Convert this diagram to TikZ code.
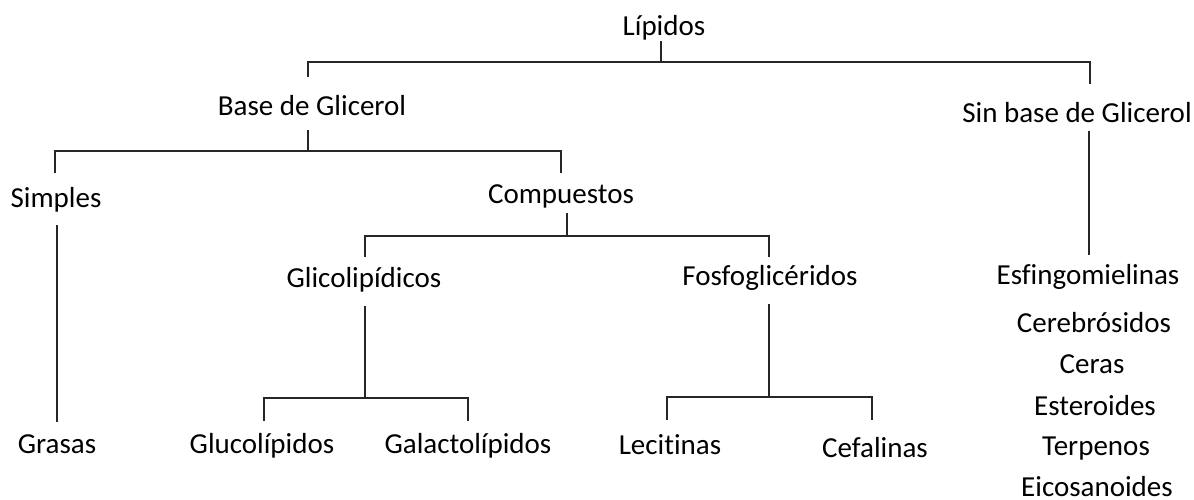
\documentclass[tikz,border=0pt]{standalone}
\usepackage{fontspec}
\setmainfont{Carlito}[Ligatures={NoCommon}]
\begin{document}
\begin{tikzpicture}[x=0.5pt,y=-0.5pt,
  lbl/.style={anchor=base,inner sep=0pt,font=\fontsize{14.5pt}{17pt}\selectfont},
  conn/.style={draw=black!85,line width=0.75pt}]
\useasboundingbox (0,0) rectangle (1194,499);
% nodes
\node[lbl] (lip) at (664,35) {Lípidos};
\node[lbl] (base) at (312,115) {Base de Glicerol};
\node[lbl] (sin) at (1077,122) {Sin base de Glicerol};
\node[lbl] (simp) at (56,207) {Simples};
\node[lbl] (comp) at (561,203) {Compuestos};
\node[lbl] (glico) at (364,287) {Glicolipídicos};
\node[lbl] (fosfo) at (770,285) {Fosfoglicéridos};
\node[lbl] (gras) at (57,453) {Grasas};
\node[lbl] (gluco) at (262,453) {Glucolípidos};
\node[lbl] (galac) at (468,453) {Galactolípidos};
\node[lbl] (leci) at (670,454) {Lecitinas};
\node[lbl] (cefa) at (875,457) {Cefalinas};
\node[lbl] (esfi) at (1088,284) {Esfingomielinas};
\node[lbl] (cere) at (1094,332) {Cerebrósidos};
\node[lbl] (cera) at (1092,373) {Ceras};
\node[lbl] (este) at (1095,415) {Esteroides};
\node[lbl] (terp) at (1096,455) {Terpenos};
\node[lbl] (eico) at (1097,496) {Eicosanoides};
% junction coordinates
\coordinate (lipS) at (661,41);
\coordinate (lipJ) at (661,62);
\coordinate (baseT) at (308,77);
\coordinate (sinT) at (1090,84);
\coordinate (baseS) at (308,130);
\coordinate (baseJ) at (308,151);
\coordinate (simpT) at (55,173);
\coordinate (compT) at (561,173);
\coordinate (simpS) at (57,225);
\coordinate (grasT) at (57,422);
\coordinate (compS) at (567,213);
\coordinate (compJ) at (567,236);
\coordinate (glicoT) at (365,257);
\coordinate (fosfoT) at (769,257);
\coordinate (glicoS) at (365,306);
\coordinate (glicoJ) at (365,398);
\coordinate (glucoT) at (264,421);
\coordinate (galacT) at (468,421);
\coordinate (fosfoS) at (769,304);
\coordinate (fosfoJ) at (769,397);
\coordinate (leciT) at (667,420);
\coordinate (cefaT) at (872,420);
\coordinate (sinS) at (1089,131);
\coordinate (esfiT) at (1089,255);
% connectors
\draw[conn] (lipS) -- (lipJ);
\draw[conn] (baseT) |- (lipJ) -| (sinT);
\draw[conn] (baseS) -- (baseJ);
\draw[conn] (simpT) |- (baseJ) -| (compT);
\draw[conn] (simpS) -- (grasT);
\draw[conn] (compS) -- (compJ);
\draw[conn] (glicoT) |- (compJ) -| (fosfoT);
\draw[conn] (glicoS) -- (glicoJ);
\draw[conn] (glucoT) |- (glicoJ) -| (galacT);
\draw[conn] (fosfoS) -- (fosfoJ);
\draw[conn] (leciT) |- (fosfoJ) -| (cefaT);
\draw[conn] (sinS) -- (esfiT);
\end{tikzpicture}
\end{document}
